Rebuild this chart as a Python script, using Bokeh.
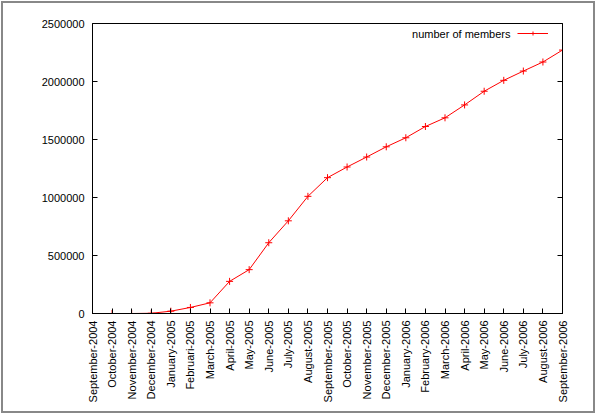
import math
from bokeh.plotting import figure
from bokeh.models import (FixedTicker, BasicTickFormatter, LinearAxis, Range1d,
                          Legend, LegendItem, Label, CustomJSTickFormatter)
from bokeh.embed import file_html
from bokeh.resources import INLINE

months = ["September-2004", "October-2004", "November-2004", "December-2004",
          "January-2005", "Februari-2005", "March-2005", "April-2005", "May-2005",
          "June-2005", "July-2005", "August-2005", "September-2005", "October-2005",
          "November-2005", "December-2005", "January-2006", "February-2006",
          "March-2006", "April-2006", "May-2006", "June-2006", "July-2006",
          "August-2006", "September-2006"]
members = [0, 0, 0, 2000, 20000, 52000, 92000, 277000, 378000, 610000, 799000,
           1010000, 1171000, 1263000, 1349000, 1437000, 1515000, 1612000, 1687000,
           1798000, 1916000, 2010000, 2090000, 2168000, 2271000]
y_ticks = [0, 500000, 1000000, 1500000, 2000000, 2500000]
series_label = "number of members"

FONT = "Liberation Sans"
FS = "11px"

idx = list(range(len(months)))

p = figure(width=596, height=414, output_backend="svg", toolbar_location=None,
           x_range=Range1d(0, len(months) - 1), y_range=Range1d(0, 2500000),
           min_border_left=92, min_border_right=34, min_border_top=23,
           min_border_bottom=101)
p.background_fill_color = "white"
p.border_fill_color = None
p.styles = {"background-color": "white",
            "box-shadow": "inset 0 0 0 1px white, inset 0 0 0 3px #888888"}
p.outline_line_color = "black"
p.outline_line_width = 1
p.grid.visible = False

xa = p.xaxis[0]
xa.ticker = FixedTicker(ticks=idx)
xa.major_label_overrides = {i: m for i, m in zip(idx, months)}
xa.major_label_orientation = math.pi / 2
xa.major_tick_in = 5
xa.major_tick_out = 0
xa.minor_tick_line_color = None
xa.major_label_standoff = 7
xa.major_label_text_font = FONT
xa.major_label_text_font_size = FS
xa.major_label_text_color = "black"
xa.axis_line_color = "black"

ya = p.yaxis[0]
ya.ticker = FixedTicker(ticks=y_ticks)
ya.formatter = BasicTickFormatter(use_scientific=False)
ya.major_tick_in = 5
ya.major_tick_out = 0
ya.minor_tick_line_color = None
ya.major_label_standoff = 8
ya.major_label_text_font = FONT
ya.major_label_text_font_size = FS
ya.major_label_text_color = "black"
ya.axis_line_color = "black"

ra = LinearAxis(ticker=FixedTicker(ticks=y_ticks),
                formatter=CustomJSTickFormatter(code="return ''"))
ra.major_tick_in = 5
ra.major_tick_out = 0
ra.minor_tick_line_color = None
ra.major_label_standoff = 0
ra.axis_line_color = "black"
p.add_layout(ra, "right")

r_line = p.line(idx, members, line_color="#ff0000", line_width=1)
r_pts = p.scatter(idx, members, marker="cross", size=7, line_color="#ff0000",
                  line_width=1)

legend = Legend(items=[LegendItem(label=" ", renderers=[r_line, r_pts])],
                location=(425, 275), glyph_width=31, glyph_height=10,
                padding=0, margin=0, spacing=0, label_standoff=0,
                label_text_font_size="1px", border_line_color=None,
                background_fill_alpha=0)
p.add_layout(legend)

p.add_layout(Label(x=418, y=280, x_units="screen", y_units="screen",
                   text=series_label, text_align="right", text_baseline="middle",
                   text_font=FONT, text_font_size=FS, text_color="black"))

open("out.html", "w").write(file_html(p, INLINE))
